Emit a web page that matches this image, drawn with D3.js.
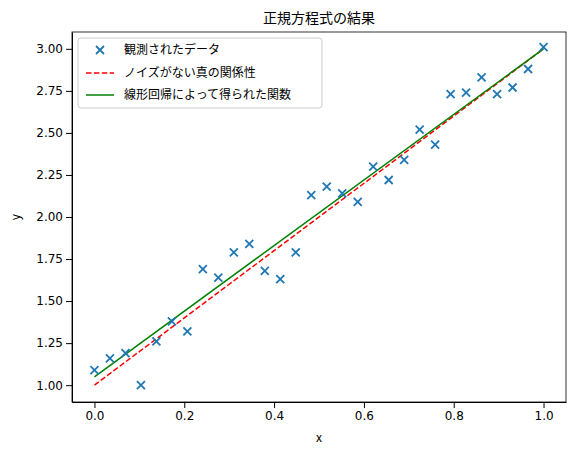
<!DOCTYPE html>
<html><head><meta charset="utf-8">
<script src="https://cdn.jsdelivr.net/npm/d3@7"></script>
<style>body{margin:0;background:#fff;font-family:"Noto Sans CJK JP","DejaVu Sans",sans-serif;}</style>
</head><body><div id="chart"></div>
<script>
// ----- data
const obsY = [1.09,1.16,1.19,1.00,1.26,1.38,1.32,1.69,1.64,1.79,1.84,1.68,1.63,1.79,2.13,
              2.18,2.14,2.09,2.30,2.22,2.34,2.52,2.43,2.73,2.74,2.83,2.73,2.77,2.88,3.01];
const obsX = obsY.map((_, i) => i / (obsY.length - 1));
const trueLine = [[0, 1.0], [1, 3.0]];
const fitLine = [[0, 1.05], [1, 3.0]];
const xTicks = [0, 0.2, 0.4, 0.6, 0.8, 1.0];
const yTicks = [1.00,1.25,1.50,1.75,2.00,2.25,2.50,2.75,3.00];
const legendLabels = ["観測されたデータ", "ノイズがない真の関係性", "線形回帰によって得られた関数"];

const W = 577, H = 455;
const m = {top: 32, right: 11, bottom: 53, left: 72};
const svg = d3.select("#chart").append("svg").attr("width", W).attr("height", H);
const g = svg.append("g").attr("transform", `translate(${m.left},${m.top})`);
const iw = W - m.left - m.right, ih = H - m.top - m.bottom;

const x = d3.scaleLinear().domain([-0.05, 1.05]).range([0, iw]);
const y = d3.scaleLinear().domain([0.9, 3.1]).range([ih, 0]);

g.append("g").attr("transform", `translate(0,${ih})`)
  .call(d3.axisBottom(x).tickValues(xTicks).tickFormat(d3.format(".1f")).tickSizeOuter(0))
  .attr("font-size", 12).attr("font-family", "DejaVu Sans");
g.append("g")
  .call(d3.axisLeft(y).tickValues(yTicks).tickFormat(d3.format(".2f")).tickSizeOuter(0))
  .attr("font-size", 12).attr("font-family", "DejaVu Sans");
g.append("rect").attr("width", iw).attr("height", ih).attr("fill", "none").attr("stroke", "#000").attr("stroke-width", 0.8);

const line = d3.line().x(d => x(d[0])).y(d => y(d[1]));
g.append("path").datum(trueLine).attr("d", line).attr("stroke", "red").attr("stroke-width", 1.5)
  .attr("stroke-dasharray", "5.5,2.4").attr("fill", "none");
g.append("path").datum(fitLine).attr("d", line).attr("stroke", "green").attr("stroke-width", 1.5).attr("fill", "none");

const cross = (sel, cx, cy) => sel.append("path")
  .attr("d", `M${cx-4},${cy-4}L${cx+4},${cy+4}M${cx-4},${cy+4}L${cx+4},${cy-4}`)
  .attr("stroke", "#1f77b4").attr("stroke-width", 1.8);
obsY.forEach((v, i) => cross(g, x(obsX[i]), y(v)));

svg.append("text").attr("x", m.left + iw / 2).attr("y", 23).attr("text-anchor", "middle")
  .attr("font-size", 14).text("正規方程式の結果");
svg.append("text").attr("x", m.left + iw / 2).attr("y", 442).attr("text-anchor", "middle")
  .attr("font-size", 12).text("x");
svg.append("text").attr("transform", `translate(20,${m.top + ih / 2}) rotate(-90)`)
  .attr("text-anchor", "middle").attr("font-size", 12).text("y");

// legend
const lg = g.append("g").attr("transform", "translate(6,6)");
lg.append("rect").attr("width", 244).attr("height", 70).attr("rx", 3).attr("fill", "#fff")
  .attr("fill-opacity", 0.8).attr("stroke", "#ccc");
cross(lg, 22, 12);
lg.append("line").attr("x1", 8).attr("x2", 36).attr("y1", 35).attr("y2", 35).attr("stroke", "red")
  .attr("stroke-width", 1.5).attr("stroke-dasharray", "5.5,2.4");
lg.append("line").attr("x1", 8).attr("x2", 36).attr("y1", 57).attr("y2", 57).attr("stroke", "green").attr("stroke-width", 1.5);
legendLabels.forEach((t, i) => lg.append("text").attr("x", 46).attr("y", 12 + i * 22.5)
  .attr("dy", "0.35em").attr("font-size", 12).text(t));
</script></body></html>
